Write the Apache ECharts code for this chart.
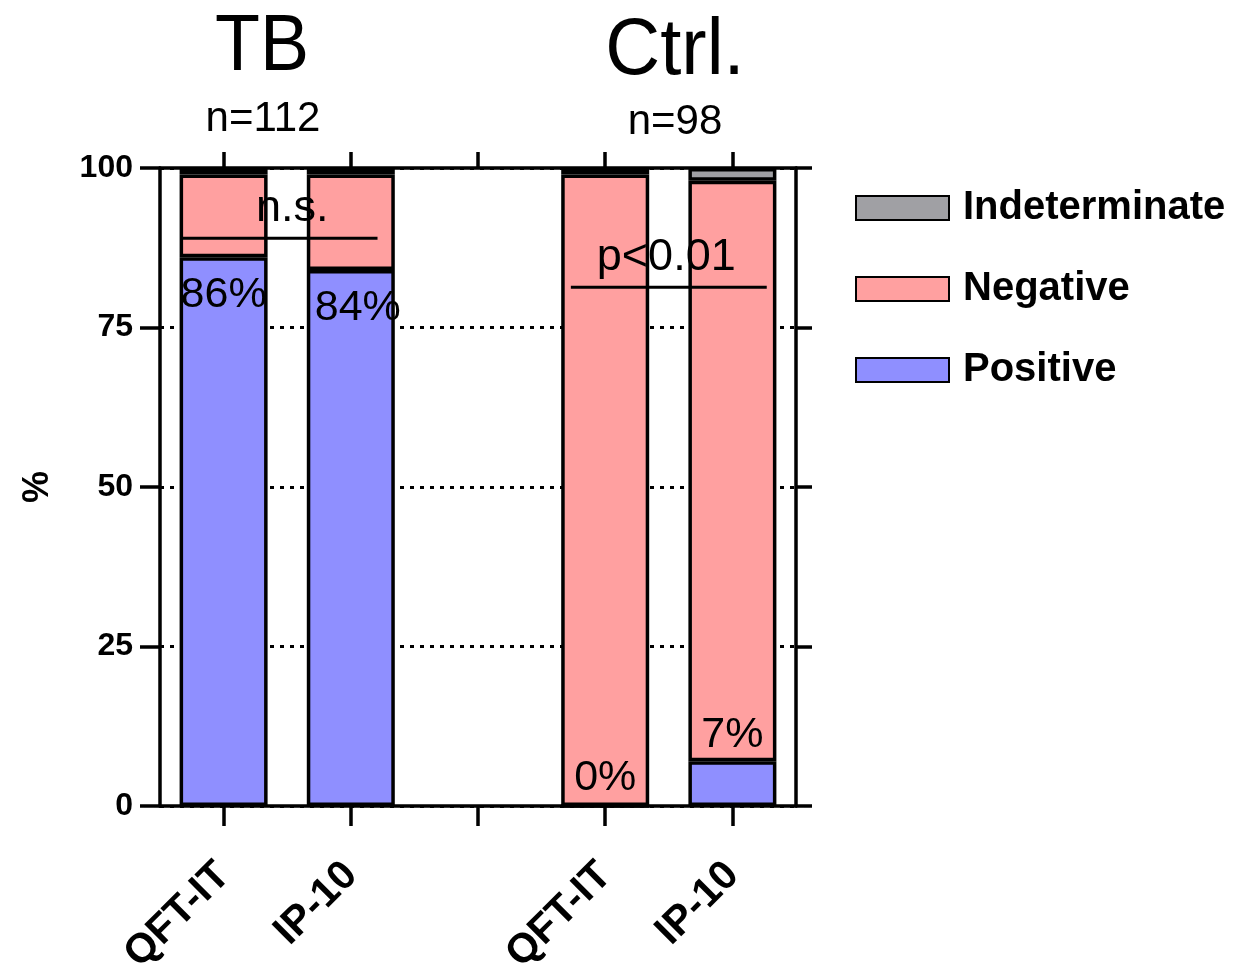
<!DOCTYPE html>
<html>
<head>
<meta charset="utf-8">
<script src="https://cdn.jsdelivr.net/npm/echarts@6/dist/echarts.min.js"></script>
<style>html,body{margin:0;padding:0;background:#fff;}#chart{width:1237px;height:977px;}</style>
</head>
<body>
<div id="chart"></div>
<script>
// ---- data ----
const categories = ['QFT-IT', 'IP-10', '', 'QFT-IT', 'IP-10'];
const positive = [86, 84, '-', 0, 7];
const negative = [13, 15, '-', 99, 91];
const indeterminate = [1, 1, '-', 1, 2];
const positiveLabels = ['86%', '84%', '', '0%', '7%'];
const yTicks = [0, 25, 50, 75, 100];
const groupTitles = ['TB', 'Ctrl.'];
const groupCounts = ['n=112', 'n=98'];
const nsLine = [[-0.33, 89], [1.21, 89]];
const pLine = [[2.73, 81.3], [4.27, 81.3]];
const annotationText = ['n.s.', 'p<0.01'];
const annotationPos = [[0.54, 93.7], [3.48, 85.9]];

const FONT = '"Liberation Sans", Arial, sans-serif';
const axisKeys = categories.map((c, i) => i + '|' + c);

const chart = echarts.init(document.getElementById('chart'), null, {renderer: 'canvas'});

const posData = positive.map((v, i) => {
  if (v === '-') return v;
  const item = {value: v, label: {show: true, formatter: positiveLabels[i]}};
  if (i === 0) { item.label.position = 'insideTop'; item.label.distance = 16; }
  else if (i === 1) { item.label.position = 'insideTop'; item.label.distance = 17; item.label.offset = [7, 0]; }
  else { item.label.position = 'top'; item.label.distance = 5; }
  return item;
});

const barBase = {
  type: 'bar', stack: 'all', barWidth: 88, xAxisIndex: 0, yAxisIndex: 0,
  label: {color: '#000', fontFamily: FONT, fontSize: 43},
  emphasis: {disabled: true}
};
const BW = 3.5;

const option = {
  backgroundColor: '#fff',
  animation: false,
  textStyle: {fontFamily: FONT},
  grid: {left: 160, right: 441, top: 168, bottom: 171, containLabel: false, outerBoundsMode: 'none'},
  legend: {
    orient: 'vertical', left: 855, top: 188, padding: 0,
    data: ['Indeterminate', 'Negative', 'Positive'],
    itemWidth: 93, itemHeight: 24, itemGap: 41, icon: 'rect',
    textStyle: {fontFamily: FONT, fontSize: 40, fontWeight: 'bold', color: '#000', padding: [0, 0, 0, 9]}
  },
  xAxis: [
    {
      type: 'category', position: 'bottom', data: axisKeys, boundaryGap: true,
      axisLine: {show: true, onZero: false, lineStyle: {color: '#000', width: BW}},
      axisTick: {show: true, interval: 0, alignWithLabel: true, inside: false, length: 20, lineStyle: {color: '#000', width: BW}},
      axisLabel: {
        rotate: 45, margin: 63, interval: 0, color: '#000', fontFamily: FONT, fontSize: 41, fontWeight: 'bold',
        formatter: v => v.split('|')[1]
      },
      splitLine: {show: false}
    },
    {
      type: 'category', position: 'top', data: axisKeys, boundaryGap: true,
      axisLine: {show: true, onZero: false, lineStyle: {color: '#000', width: BW}},
      axisTick: {show: true, interval: 0, alignWithLabel: true, inside: false, length: 16, lineStyle: {color: '#000', width: BW}},
      axisLabel: {show: false}, splitLine: {show: false}
    },
    {
      type: 'value', min: -0.5, max: 4.5, show: false,
      axisLine: {onZero: false}, splitLine: {show: false}
    }
  ],
  yAxis: [
    {
      type: 'value', position: 'left', min: yTicks[0], max: yTicks[yTicks.length - 1], interval: 25,
      axisLine: {show: true, onZero: false, lineStyle: {color: '#000', width: BW}},
      axisTick: {show: true, length: 20, lineStyle: {color: '#000', width: BW}},
      axisLabel: {margin: 27, color: '#000', fontFamily: FONT, fontSize: 32, fontWeight: 'bold'},
      splitLine: {show: true, lineStyle: {color: '#000', width: 3, type: [4, 6]}},
      name: '%', nameLocation: 'middle', nameGap: 104, nameRotate: 90,
      nameTextStyle: {color: '#000', fontFamily: FONT, fontSize: 36, fontWeight: 'bold'}
    },
    {
      type: 'value', position: 'right', min: yTicks[0], max: yTicks[yTicks.length - 1], interval: 25,
      axisLine: {show: true, onZero: false, lineStyle: {color: '#000', width: BW}},
      axisTick: {show: true, length: 16, lineStyle: {color: '#000', width: BW}},
      axisLabel: {show: false}, splitLine: {show: false}
    }
  ],
  series: [
    Object.assign({}, barBase, {name: 'Positive', data: posData, itemStyle: {color: '#8f8fff', borderColor: '#000', borderWidth: BW}}),
    Object.assign({}, barBase, {name: 'Negative', data: negative, itemStyle: {color: '#ffa0a0', borderColor: '#000', borderWidth: BW}}),
    Object.assign({}, barBase, {name: 'Indeterminate', data: indeterminate, itemStyle: {color: '#a0a0a4', borderColor: '#000', borderWidth: BW}}),
    {
      type: 'line', xAxisIndex: 2, yAxisIndex: 0, data: nsLine, symbol: 'none', silent: true,
      lineStyle: {color: '#000', width: 3}, z: 5
    },
    {
      type: 'line', xAxisIndex: 2, yAxisIndex: 0, data: pLine, symbol: 'none', silent: true,
      lineStyle: {color: '#000', width: 3}, z: 5
    },
    {
      type: 'scatter', xAxisIndex: 2, yAxisIndex: 0, symbolSize: 0, silent: true, z: 6,
      itemStyle: {color: '#000', opacity: 1},
      data: annotationPos.map((p, i) => ({value: p, label: {formatter: annotationText[i]}})),
      label: {show: true, position: 'inside', color: '#000', opacity: 1, fontFamily: FONT, fontSize: 45}
    }
  ],
  graphic: [
    {type: 'text', x: 262, y: 48, scaleX: 0.92, style: {text: groupTitles[0], font: '80px ' + FONT, fill: '#000', align: 'center', verticalAlign: 'middle'}},
    {type: 'text', x: 675, y: 52, scaleX: 0.95, style: {text: groupTitles[1], font: '80px ' + FONT, fill: '#000', align: 'center', verticalAlign: 'middle'}},
    {type: 'text', x: 263, y: 119, style: {text: groupCounts[0], font: '42px ' + FONT, fill: '#000', align: 'center', verticalAlign: 'middle'}},
    {type: 'text', x: 675, y: 122, style: {text: groupCounts[1], font: '42px ' + FONT, fill: '#000', align: 'center', verticalAlign: 'middle'}}
  ]
};

chart.setOption(option);
</script>
</body>
</html>
